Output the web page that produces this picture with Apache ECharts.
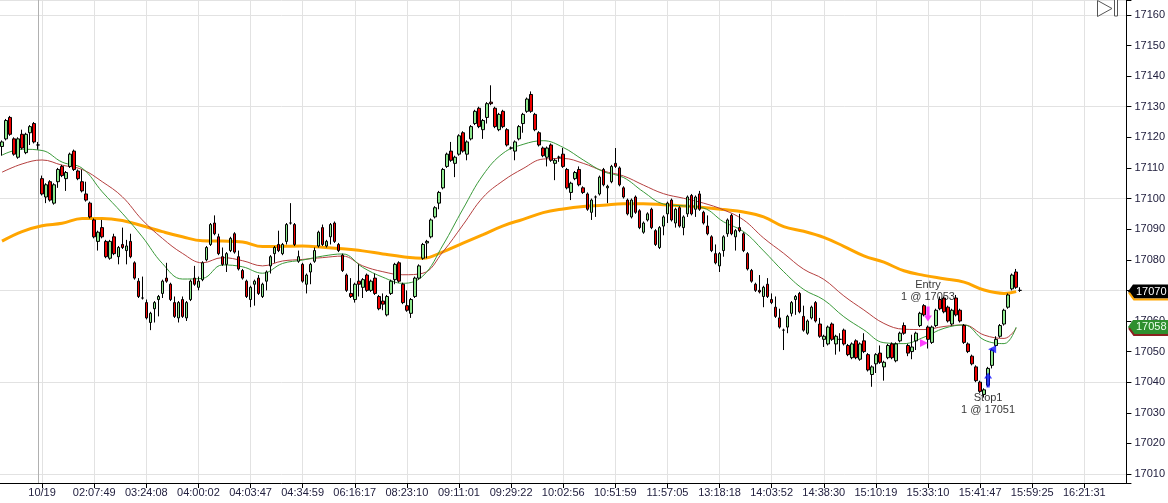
<!DOCTYPE html>
<html><head><meta charset="utf-8">
<script src="https://cdn.jsdelivr.net/npm/echarts@6/dist/echarts.min.js"></script>
<style>html,body{margin:0;padding:0;background:#fff}#c{width:1168px;height:503px}</style>
</head><body><div id="c"></div>
<script>
const tickLabels = ['10/19','02:07:49','03:24:08','04:00:02','04:03:47','04:34:59','06:16:17','08:23:10','09:11:01','09:29:22','10:02:56','10:51:59','11:57:05','13:18:18','14:03:52','14:38:30','15:10:19','15:33:10','15:41:47','15:59:25','16:21:31'];
const tickFirstBar = 10, tickEveryBars = 13, barSlots = 281, daySplitBar = 9;

// [open, close, low, high]
const candles = [
[17117,17118.5,17114,17119],[17119.5,17125.5,17119,17126],[17126.5,17121,17120.5,17127],[17119.5,17114.5,17114,17120],[17113.5,17119.5,17113,17120],
[17121,17116.5,17116,17122.5],[17115,17121,17114.5,17121.5],[17121.5,17123.5,17117.5,17124],[17124.5,17118.5,17118,17125],[17117.5,17117.5,17116,17118.5],
[17106.5,17101.5,17101,17107.5],[17100.5,17104.5,17098.5,17105],[17105.5,17099.5,17099,17106],[17098.5,17104.5,17098,17105],[17105.5,17109.5,17103.5,17110],
[17110.5,17107.5,17107,17111],[17106.5,17108.5,17102.5,17109],[17110.5,17114.5,17110,17115],[17115.5,17109.5,17109,17116],[17109,17106.5,17106,17109.5],
[17105.5,17102.5,17102,17109.5],[17101.5,17099.5,17099,17105.5],[17098.5,17094,17093.5,17099],[17093,17087.5,17087,17093.5],[17086,17089,17083,17089.5],
[17090.5,17087.5,17087,17093],[17086,17081,17080.5,17086.5],[17080.5,17086,17080,17086.5],[17087.5,17082,17081.5,17088.5],[17081,17084,17078.5,17084.5],
[17085,17084,17083.5,17090.5],[17083,17084.5,17078.5,17086.5],[17086,17081,17080.5,17088.5],[17079,17074,17073.5,17079.5],[17073,17068,17067.5,17074],
[17067.5,17067.5,17067,17074.5],[17066,17061,17060.5,17067],[17059.5,17062.5,17057,17063],[17064,17066,17059.5,17066.5],[17067,17068,17061.5,17068.5],
[17069,17073,17067.5,17073.5],[17074,17073,17072.5,17079],[17072,17067,17066.5,17072.5],[17066,17061.5,17061,17068],[17061,17066,17059.5,17066.5],
[17067,17061.5,17061,17068],[17061,17066,17060,17066.5],[17067,17073,17066.5,17073.5],[17074,17072,17071.5,17078],[17071,17073,17070,17074.5],
[17073.5,17079,17073,17079.5],[17080,17084,17079.5,17084.5],[17085,17091.5,17084.5,17092],[17092,17088.5,17088,17094.5],[17087.5,17082,17081.5,17088.5],
[17081,17078.5,17078,17084],[17078.5,17082,17076,17082.5],[17083,17087,17082.5,17087.5],[17088.5,17082.5,17082,17089],[17081,17077,17076.5,17083],
[17076.5,17074,17073.5,17077],[17073,17068,17067.5,17073.5],[17067,17071,17064.5,17071.5],[17072,17073,17065,17073.5],[17074,17069,17068.5,17075],
[17068,17072,17067.5,17072.5],[17073,17076,17070,17076.5],[17078,17081,17075.5,17081.5],[17082,17084,17079,17084.5],[17085,17083,17082.5,17089.5],
[17082,17085,17081.5,17085.5],[17086,17091.5,17085,17092],[17092,17092,17091.5,17098.5],[17091.5,17085,17084.5,17092],[17079.5,17081,17079,17083],
[17078.5,17073,17072.5,17079],[17072,17075,17069,17075.5],[17076,17078.5,17072,17079],[17079.5,17083,17079,17084],[17084.5,17089,17084,17089.5],
[17090.5,17085,17084.5,17091.5],[17084.5,17086,17084,17086.5],[17087.5,17091.5,17085,17092],[17092,17086,17085.5,17092.5],[17085,17083,17082.5,17085.5],
[17081.5,17076.5,17076,17082],[17075,17070,17069.5,17075.5],[17069,17068,17067.5,17074],[17067,17072,17066,17072.5],[17073,17072,17068,17078.5],
[17071,17073.5,17067.5,17074],[17075,17070,17069.5,17075.5],[17070,17073,17069.5,17073.5],[17074,17069,17068.5,17075.5],[17068,17064,17063.5,17068.5],
[17066.5,17065.5,17063.5,17069],[17062,17068,17061.5,17068.5],[17069,17073,17068.5,17073.5],[17073.5,17078.5,17072,17079],[17079,17073,17072.5,17079.5],
[17072,17066,17065.5,17072.5],[17065,17063.5,17063,17070],[17062.5,17067,17061,17067.5],[17068,17074,17067.5,17074.5],[17074,17078,17073.5,17078.5],
[17080.5,17085,17080,17085.5],[17085.5,17086,17080.5,17086.5],[17087.5,17093,17087,17093.5],[17094,17097,17093.5,17097.5],[17098.5,17102,17096.5,17102.5],
[17103.5,17109.5,17103,17110],[17110.5,17114.5,17110,17115],[17115.5,17112.5,17112,17118.5],[17111.5,17113.5,17107,17114],[17114.5,17120.5,17114,17121],
[17121.5,17115.5,17115,17122],[17114.5,17118.5,17112.5,17119],[17119.5,17123.5,17119,17124],[17124.5,17128.5,17124,17129],[17129.5,17123.5,17123,17130],
[17122.5,17125.5,17119.5,17126],[17126.5,17131,17124.5,17131.5],[17131.5,17131,17130.5,17137],[17129.5,17123.5,17123,17130],[17122.5,17127.5,17122,17128],
[17128.5,17123.5,17123,17129],[17122.5,17117.5,17117,17123],[17116.5,17116.5,17116,17117],[17115.5,17118.5,17112.5,17119],[17119.5,17123.5,17119,17124],
[17124.5,17127.5,17121.5,17128],[17128.5,17132.5,17128,17133],[17134,17128.5,17128,17135],[17127.5,17122.5,17122,17128],[17121.5,17117.5,17117,17122],
[17116.5,17114,17113.5,17117],[17113.5,17116.5,17110.5,17117],[17117.5,17112.5,17112,17118],[17111.5,17112.5,17106,17113],[17113.5,17113.5,17112,17114],
[17114.5,17110.5,17110,17116.5],[17109.5,17103.5,17103,17110],[17102,17105,17099.5,17105.5],[17106.5,17108.5,17106,17109],[17109.5,17104.5,17104,17110.5],
[17103.5,17102,17101.5,17104],[17101.5,17096.5,17096,17102],[17095.5,17099.5,17093,17100],[17100.5,17100.5,17094,17101],[17101.5,17107,17101,17107.5],
[17109.5,17104.5,17104,17110],[17103.5,17104,17098.5,17104.5],[17105.5,17110.5,17105,17111],[17111.5,17110.5,17110,17116.5],[17110,17104.5,17104,17110.5],
[17103.5,17100.5,17100,17104],[17099.5,17095,17094.5,17100],[17094,17099.5,17093.5,17100],[17100.5,17095.5,17095,17101],[17096,17090.5,17090,17096.5],
[17089,17092,17088.5,17092.5],[17093,17095,17092.5,17095.5],[17096.5,17090.5,17090,17097],[17089.5,17085,17084.5,17090],[17084,17090.5,17083.5,17091],
[17091,17094,17088,17094.5],[17095,17098.5,17092,17099],[17099.5,17093,17092.5,17100],[17092,17096.5,17090.5,17097],[17097,17091,17090.5,17097.5],
[17090.5,17094,17088,17094.5],[17095,17100.5,17094,17101],[17101,17095,17094.5,17101.5],[17096.5,17100.5,17094,17101],[17101.5,17096.5,17096,17102.5],
[17095.5,17092,17091.5,17096],[17091,17088.5,17088,17094.5],[17087.5,17083,17082.5,17088],[17082,17079,17078.5,17085],[17078,17082,17076,17082.5],
[17083,17087.5,17081,17088],[17088.5,17093,17087.5,17093.5],[17094.5,17088.5,17088,17095],[17087.5,17089.5,17083,17090],[17090.5,17089.5,17089,17095],
[17088.5,17083,17082.5,17089],[17082,17077,17076.5,17082.5],[17076.5,17073,17072.5,17077],[17072,17070,17069.5,17072.5],[17070,17069.5,17069,17075],
[17068,17071,17064.5,17071.5],[17072,17068,17067.5,17074],[17067,17066,17065.5,17069],[17064.5,17061.5,17061,17068],[17061,17058,17057.5,17064],
[17057,17057,17050.5,17057.5],[17058,17061.5,17056,17062],[17062.5,17066,17061.5,17066.5],[17067,17068,17062,17068.5],[17069,17063,17062.5,17069.5],
[17061.5,17057,17056.5,17065],[17056,17060,17055.5,17060.5],[17061,17064.5,17060.5,17065],[17066,17060,17059.5,17066.5],[17059,17055,17054.5,17061],
[17054,17055,17051.5,17055.5],[17052.5,17058,17052,17058.5],[17059,17054,17053.5,17059.5],[17052.5,17055,17049,17055.5],[17054,17054,17050,17056],
[17057,17052.5,17052,17057.5],[17052,17049,17048.5,17052.5],[17048,17052.5,17047.5,17053],[17053.5,17048,17047.5,17054],[17047.5,17052.5,17047,17053],
[17053.5,17050,17049.5,17056],[17049,17044,17043.5,17049.5],[17042.5,17045,17038.5,17045.5],[17046,17049,17043,17049.5],[17049.5,17046.5,17046,17052],
[17045,17046.5,17040.5,17047],[17048,17052,17047.5,17052.5],[17052.5,17048,17047.5,17053],[17047,17052.5,17046.5,17053],[17053.5,17056,17053,17056.5],
[17058.5,17056,17055.5,17059.5],[17052,17049.5,17048.5,17052.5],[17050,17051.5,17047.5,17055.5],[17053.5,17056,17050.5,17056.5],[17058.5,17062.5,17058,17063],
[17065,17062,17061.5,17065.5],[17058,17054,17051,17058.5],[17053,17058,17052.5,17058.5],[17058.5,17063.5,17058,17064],[17067,17064,17063.5,17068],
[17067.5,17063,17062.5,17068],[17064.5,17060,17059.5,17065],[17059,17063.5,17058.5,17064],[17067.5,17062,17061.5,17068.5],[17063.5,17060,17059.5,17064],
[17058.5,17053,17052.5,17059],[17052.5,17050,17049.5,17053],[17048.5,17046,17045.5,17049],[17045,17040.5,17040,17045.5],[17040,17037,17036.5,17040.5],
[17036,17037.5,17035,17038],[17039,17044.5,17038.5,17045],[17045.5,17050.5,17044.5,17051],[17052,17054,17051.5,17055],[17055,17058.5,17054.5,17059],
[17059,17063.5,17058.5,17064],[17064.5,17068.5,17064,17069],[17070.5,17075,17070,17075.5],[17076,17071,17070.5,17077],[17070,17070,17069.5,17071]
];

// moving averages: [bar, value]
const maFast = [[0,17114.2],[5,17116.1],[10,17115.7],[15,17111.9],[20,17109.9],[25,17102.2],[30,17095.2],[35,17087.5],[40,17078.8],[45,17073.7],[50,17073.9],[55,17078.3],[60,17077.7],[65,17075.6],[70,17078.8],[75,17079.9],[80,17081.2],[85,17081.9],[90,17077.5],[95,17074.3],[100,17072.3],[105,17074.7],[110,17084.8],[115,17096.6],[120,17107.7],[125,17114.8],[130,17117.7],[135,17118.9],[140,17116.7],[145,17112.6],[150,17108.8],[155,17106.9],[160,17102.2],[165,17098.2],[170,17097.6],[175,17096.9],[180,17092.4],[185,17089.2],[190,17082.9],[195,17076.1],[200,17070.3],[205,17066.9],[210,17061.4],[215,17057.1],[220,17052.9],[225,17052.6],[230,17054.7],[235,17057.6],[240,17058.7],[245,17053.8],[250,17052.6],[253,17058]];
const maMid = [[0,17108.6],[5,17111.3],[10,17112.6],[15,17110.9],[20,17109.5],[25,17105.5],[30,17100.6],[35,17093.0],[40,17087.0],[45,17082.1],[50,17079.0],[55,17080.7],[60,17079.7],[65,17078.0],[70,17079.6],[75,17080.1],[80,17080.7],[85,17081.2],[90,17078.0],[95,17076.1],[100,17075.1],[105,17075.6],[110,17082.6],[115,17091.4],[120,17100.4],[125,17105.8],[130,17109.8],[135,17112.9],[140,17113.1],[145,17111.5],[150,17109.0],[155,17107.4],[160,17104.4],[165,17101.6],[170,17100.1],[175,17098.5],[180,17096.3],[185,17093.0],[190,17087.1],[195,17082.1],[200,17076.9],[205,17073.6],[210,17068.2],[215,17063.6],[220,17059.2],[225,17057.3],[230,17057.2],[235,17058.2],[240,17058.7],[245,17055.4],[250,17054.3],[253,17057.6]];
const maSlow = [[0,17086.1],[5,17089.2],[10,17091.1],[15,17091.9],[20,17093.5],[25,17093.5],[30,17092.8],[35,17091.1],[40,17089.2],[45,17087.5],[50,17086.2],[55,17086.1],[60,17085.8],[65,17084.3],[70,17084.4],[75,17084.5],[80,17084.1],[85,17083.6],[90,17082.9],[95,17081.9],[100,17081.0],[105,17080.5],[110,17082.6],[115,17085.4],[120,17088.2],[125,17091.1],[130,17093.2],[135,17095.4],[140,17096.6],[145,17097.4],[150,17097.8],[155,17098.3],[160,17098.3],[165,17098.0],[170,17097.6],[175,17097.1],[180,17096.4],[185,17095.6],[190,17094.0],[195,17090.8],[200,17089.3],[205,17087.3],[210,17084.4],[215,17081.3],[220,17079.2],[225,17076.4],[230,17074.9],[235,17073.8],[240,17072.7],[245,17070.1],[250,17069.0],[253,17069.6]];

// order markers
const entryArrow = [231, 17062.3], entryFlag = [230, 17052.8], entryText = [231, 17069.8];
const stopArrow = [246, 17040.7], stopFlag = [247, 17050.8], stopText = [246, 17032.9];
const entryLabel = 'Entry\n1 @ 17053', stopLabel = 'Stop1\n1 @ 17051';

const yMin = 17007.06, yMax = 17164.87;

const categories = [];
for (let i = 0; i < barSlots; i++) {
  const k = (i - tickFirstBar) / tickEveryBars;
  categories.push(Number.isInteger(k) && k >= 0 && k < tickLabels.length ? tickLabels[k] : '');
}
const isTick = (i) => { const k = (i - tickFirstBar) / tickEveryBars; return Number.isInteger(k) && k >= 0 && k < tickLabels.length; };

const FONT = 'Liberation Sans, Arial, sans-serif';
const chart = echarts.init(document.getElementById('c'), null, {renderer: 'canvas'});
const downArrow = 'path://M3,0 L7,0 L7,9 L10,9 L5,15 L0,9 L3,9 Z';
const upArrow = 'path://M5,0 L10,6 L7,6 L7,15 L3,15 L3,6 L0,6 Z';

chart.setOption({
  animation: false,
  backgroundColor: '#fff',
  textStyle: {fontFamily: FONT},
  grid: {left: 0, right: 40, top: 0, bottom: 20, containLabel: false},
  xAxis: {
    type: 'category', data: categories, boundaryGap: true,
    axisLine: {show: true, lineStyle: {color: '#000', width: 1}},
    axisTick: {show: true, alignWithLabel: true, interval: (i) => isTick(i), length: 5, lineStyle: {color: '#000'}},
    axisLabel: {show: true, interval: (i) => isTick(i), margin: 4, fontSize: 11, color: '#22203f', fontFamily: FONT},
    splitLine: {show: true, alignWithLabel: true, interval: (i) => isTick(i), lineStyle: {color: '#e2e2e2', width: 1}}
  },
  yAxis: [{
    type: 'value', position: 'right', min: yMin, max: yMax, splitNumber: 16, scale: true,
    axisLine: {show: true, lineStyle: {color: '#000'}},
    axisTick: {show: true, length: 5, lineStyle: {color: '#000'}},
    axisLabel: {show: true, margin: 8, fontSize: 11, color: '#22203f', fontFamily: FONT,
      formatter: (v) => Math.abs(v / 10 - Math.round(v / 10)) < 1e-6 ? String(Math.round(v)) : ''},
    splitLine: {show: false}
  }, {
    type: 'value', position: 'right', min: yMin, max: yMax, splitNumber: 5, scale: true,
    axisLine: {show: false}, axisTick: {show: false}, axisLabel: {show: false},
    splitLine: {show: true, lineStyle: {color: '#e2e2e2', width: 1}}
  }],
  series: [
    {type: 'line', name: 'slow', data: maSlow, yAxisIndex: 0, smooth: 0.4, symbol: 'none', z: 1,
     lineStyle: {color: '#ffa500', width: 3}},
    {type: 'line', name: 'mid', data: maMid, yAxisIndex: 0, smooth: 0.4, symbol: 'none', z: 1,
     lineStyle: {color: '#b5403f', width: 1}},
    {type: 'line', name: 'fast', data: maFast, yAxisIndex: 0, smooth: 0.4, symbol: 'none', z: 1,
     lineStyle: {color: '#3a9a3a', width: 1}},
    {type: 'candlestick', name: 'price', data: candles, yAxisIndex: 0, barWidth: 3, z: 3,
     itemStyle: {color: '#8ee88e', color0: '#ee0000', borderColor: '#000', borderColor0: '#000', borderWidth: 1},
     markLine: {silent: true, symbol: 'none', label: {show: false}, z: 0,
       lineStyle: {color: '#b0b0b0', width: 1, type: 'solid'}, data: [{xAxis: daySplitBar}]}},
    {type: 'scatter', name: 'entry', yAxisIndex: 0, z: 5, silent: true,
     data: [{value: entryArrow, symbol: downArrow, symbolSize: [8, 15], itemStyle: {color: '#ff10ff'}},
            {value: entryFlag, symbol: 'triangle', symbolRotate: -90, symbolSize: [8, 8], itemStyle: {color: '#ff10ff'}},
            {value: stopArrow, symbol: upArrow, symbolSize: [8, 15], itemStyle: {color: '#1010ff'}},
            {value: stopFlag, symbol: 'triangle', symbolRotate: 90, symbolSize: [8, 8], itemStyle: {color: '#1010ff'}}]},
    {type: 'scatter', name: 'texts', yAxisIndex: 0, z: 6, silent: true, symbolSize: 0,
     data: [{value: entryText, label: {formatter: entryLabel}}, {value: stopText, label: {formatter: stopLabel}}],
     label: {show: true, position: 'inside', color: '#000', fontSize: 11, lineHeight: 12, fontFamily: FONT, align: 'center'}}
  ]
});

function marker(value, fill, textColor, underline) {
  const y = chart.convertToPixel({yAxisIndex: 0}, value);
  const x0 = 1128;
  return [
    {type: 'polygon', z: 100, shape: {points: [[x0, y], [x0 + 5, y - 7], [1168, y - 7], [1168, y + 7], [x0 + 5, y + 7]]},
     style: {fill: fill, stroke: null}},
    {type: 'polyline', z: 100, shape: {points: [[x0 + 1, y + 1], [x0 + 6, y + 8], [1168, y + 8]]},
     style: {stroke: underline, lineWidth: 2, fill: null}},
    {type: 'text', z: 101, x: x0 + 8, y: y, style: {text: String(Math.round(value)), fill: textColor, font: '11px ' + FONT, verticalAlign: 'middle', textVerticalAlign: 'middle'}}
  ];
}
const lastSlow = maSlow[maSlow.length - 1][1];
const lastFast = maFast[maFast.length - 1][1];
chart.setOption({
  graphic: [
    ...marker(lastSlow, '#000', '#fff', '#ffa500'),
    ...marker(lastFast, '#2f8f2f', '#eaffea', '#8b2020'),
    {type: 'polygon', z: 100, shape: {points: [[1097.5, 0.5], [1112, 8.5], [1097.5, 16.5]]}, style: {fill: '#fff', stroke: '#555', lineWidth: 1}},
    {type: 'rect', z: 100, shape: {x: 1114.5, y: -1, width: 3, height: 17}, style: {fill: '#fff', stroke: '#555', lineWidth: 1}}
  ]
});
</script></body></html>
